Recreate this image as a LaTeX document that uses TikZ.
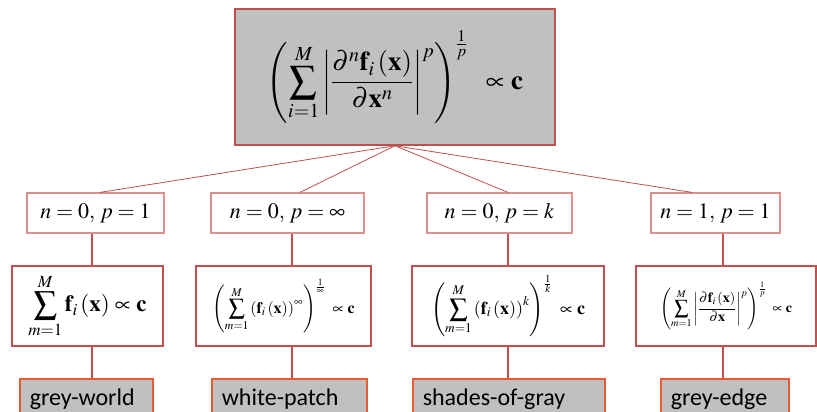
\documentclass[tikz,border=0pt]{standalone}
\usepackage{amsmath}
\usepackage{mathptmx}
\usepackage[no-math]{fontspec}
\newfontfamily\labelfont{Carlito}
\usetikzlibrary{positioning}
\definecolor{boxred}{HTML}{C0504D}
\definecolor{boxpink}{HTML}{D9908E}
\definecolor{boxorange}{HTML}{EE5A2F}
\definecolor{boxgrey}{HTML}{C0C0C0}

\begin{document}
\begin{tikzpicture}[x=1pt, y=-1pt]

\tikzset{
    topbox/.style={draw=boxred, line width=1.5pt, fill=boxgrey,
        minimum width=320pt, minimum height=136pt, inner sep=0pt,
        font=\fontsize{27}{32}\selectfont},
    casebox/.style={draw=boxpink, line width=1.2pt, fill=white,
        minimum height=40pt, inner sep=0pt,
        font=\fontsize{22}{26}\selectfont},
    formbox/.style={draw=boxred, line width=1.2pt, fill=white,
        minimum height=80pt, inner sep=0pt},
    namebox/.style={draw=boxorange, line width=1.5pt, fill=boxgrey,
        anchor=north west, inner xsep=10pt, inner ysep=10pt, align=left,
        font=\labelfont\fontsize{24}{28}\selectfont},
    fan/.style={draw=boxred, line width=0.8pt},
    stem/.style={draw=boxred, line width=2pt}
}

\useasboundingbox (0,0) rectangle (817,412);
\clip (0,0) rectangle (817,412);

% Formula general
\node[topbox] (top) at (395,77)
    {$\displaystyle\left(\sum_{i=1}^{M}\left|\frac{\partial^{n}\mathbf{f}_{i}\left(\mathbf{x}\right)}{\partial\mathbf{x}^{n}}\right|^{p}\right)^{\frac{1}{p}}\;\;\propto\mathbf{c}$};

% Casos
\node[casebox, minimum width=137pt] (b1) at (95.5,213) {$n=0,\,p=1$};
\node[casebox, minimum width=153pt] (b2) at (287.5,213) {$n=0,\,p=\infty$};
\node[casebox, minimum width=145pt] (b3) at (499.5,213) {$n=0,\,p=k$};
\node[casebox, minimum width=129pt] (b4) at (715.5,213) {$n=1,\,p=1$};

% Formules
\node[formbox, minimum width=151pt, font=\fontsize{23}{27}\selectfont] (c1) at (87.5,306)
    {$\displaystyle\sum_{m=1}^{M}\mathbf{f}_{i}\left(\mathbf{x}\right)\propto\mathbf{c}$};
\node[formbox, minimum width=175pt, font=\fontsize{16}{20}\selectfont] (c2) at (283.5,306)
    {$\displaystyle\left(\sum_{m=1}^{M}\left(\mathbf{f}_{i}\left(\mathbf{x}\right)\right)^{\infty}\right)^{\frac{1}{\infty}}\;\propto\mathbf{c}$};
\node[formbox, minimum width=192pt, font=\fontsize{18}{22}\selectfont] (c3) at (508,306)
    {$\displaystyle\left(\sum_{m=1}^{M}\left(\mathbf{f}_{i}\left(\mathbf{x}\right)\right)^{k}\right)^{\frac{1}{k}}\;\propto\mathbf{c}$};
\node[formbox, minimum width=180pt, font=\fontsize{14}{17}\selectfont] (c4) at (726,306)
    {$\displaystyle\left(\sum_{m=1}^{M}\left|\frac{\partial\mathbf{f}_{i}\left(\mathbf{x}\right)}{\partial\mathbf{x}}\right|^{p}\right)^{\frac{1}{p}}\;\propto\mathbf{c}$};

% Metodes
\node[namebox, text width=113pt] (d1) at (19,378) {grey-world};
\node[namebox, text width=135pt] (d2) at (211,378) {white-patch};
\node[namebox, text width=172pt] (d3) at (412,378) {shades-of-gray};
\node[namebox, text width=108pt] (d4) at (660,378) {grey-edge};

% Columnes
\coordinate (k1) at (92,0);
\coordinate (k2) at (292,0);
\coordinate (k3) at (508,0);
\coordinate (k4) at (723,0);

% Branques
\draw[fan] (top.south) -- ([xshift=4.5pt]b1.north);
\draw[fan] (top.south) -- ([xshift=12.5pt]b2.north);
\draw[fan] (top.south) -- ([xshift=8.5pt]b3.north);
\draw[fan] (top.south) -- ([xshift=-23.5pt]b4.north);

% Tiges
\draw[stem] (b1.south -| k1) -- (c1.north -| k1);
\draw[stem] (c1.south -| k1) -- (d1.north -| k1);
\draw[stem] (b2.south -| k2) -- (c2.north -| k2);
\draw[stem] (c2.south -| k2) -- (d2.north -| k2);
\draw[stem] (b3.south -| k3) -- (c3.north -| k3);
\draw[stem] (c3.south -| k3) -- (d3.north -| k3);
\draw[stem] (b4.south -| k4) -- (c4.north -| k4);
\draw[stem] (c4.south -| k4) -- (d4.north -| k4);

\end{tikzpicture}
\end{document}
